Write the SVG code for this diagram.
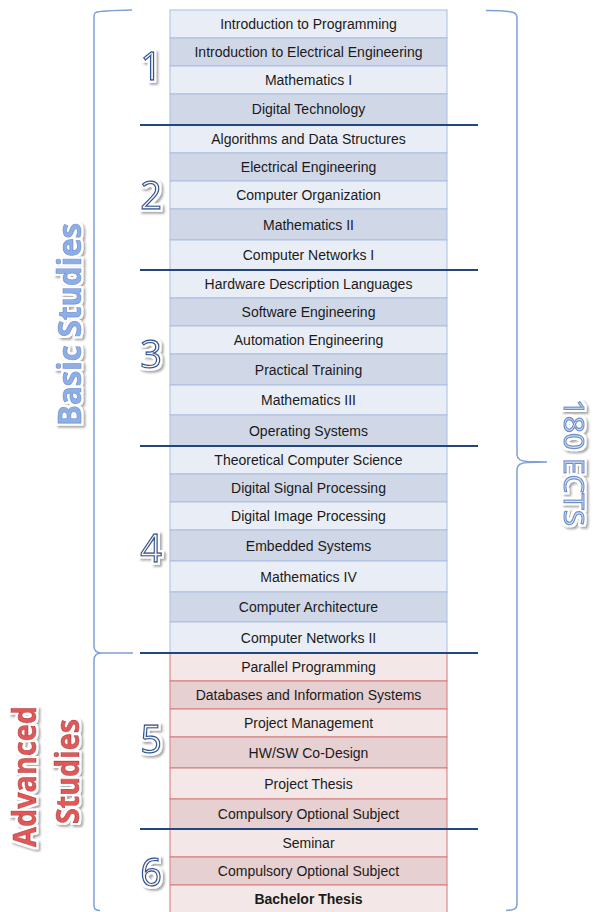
<svg xmlns="http://www.w3.org/2000/svg" width="595" height="912" viewBox="0 0 595 912">
<defs>
<style>
.rb{stroke:#a9bde0;stroke-width:1}
.L{fill:#e9eef6}
.D{fill:#d0d8e8}
.rr{stroke:#d47a7a;stroke-width:1}
.PL{fill:#f3e7e7}
.PD{fill:#e7d0d1}
.t{font-family:"Liberation Sans",Arial,sans-serif;font-size:14px;fill:#1a1a1a;text-anchor:middle}
.b{font-weight:bold}
.num{font-family:"Open Sans","Noto Sans",sans-serif;font-size:38px;fill:#fdf8ea;stroke:#2f5597;stroke-width:1.3;text-anchor:middle}
.big{font-family:"Open Sans","Noto Sans",sans-serif;font-weight:bold;font-size:32px;text-anchor:middle}
.brace{fill:none;stroke:#7ea0d6;stroke-width:1.5}
.div{stroke:#23467d;stroke-width:2}
</style>
<filter id="halo" x="-15%" y="-15%" width="140%" height="140%">
<feMorphology in="SourceAlpha" operator="dilate" radius="1.5" result="d"/>
<feGaussianBlur in="d" stdDeviation="1.2" result="db"/>
<feOffset in="db" dx="1.5" dy="1.5" result="so"/>
<feFlood flood-color="#000" flood-opacity="0.35"/>
<feComposite in2="so" operator="in" result="shadow"/>
<feFlood flood-color="#fff"/>
<feComposite in2="d" operator="in" result="white"/>
<feMerge><feMergeNode in="shadow"/><feMergeNode in="white"/><feMergeNode in="SourceGraphic"/></feMerge>
</filter>
</defs>
<rect width="595" height="912" fill="#fff"/>

<g id="sem1-rows">
<g id="r1"><rect x="170" y="10" width="277" height="28" class="L rb"/><text class="t" x="308.5" y="29">Introduction to Programming</text></g>
<g id="r2"><rect x="170" y="38" width="277" height="28" class="D rb"/><text class="t" x="308.5" y="57">Introduction to Electrical Engineering</text></g>
<g id="r3"><rect x="170" y="66" width="277" height="28" class="L rb"/><text class="t" x="308.5" y="85">Mathematics I</text></g>
<g id="r4"><rect x="170" y="94" width="277" height="31" class="D rb"/><text class="t" x="308.5" y="114">Digital Technology</text></g>
</g>
<g id="sem2-rows">
<g id="r5"><rect x="170" y="125" width="277" height="28" class="L rb"/><text class="t" x="308.5" y="144">Algorithms and Data Structures</text></g>
<g id="r6"><rect x="170" y="153" width="277" height="28" class="D rb"/><text class="t" x="308.5" y="172">Electrical Engineering</text></g>
<g id="r7"><rect x="170" y="181" width="277" height="28" class="L rb"/><text class="t" x="308.5" y="200">Computer Organization</text></g>
<g id="r8"><rect x="170" y="209" width="277" height="31" class="D rb"/><text class="t" x="308.5" y="229.5">Mathematics II</text></g>
<g id="r9"><rect x="170" y="240" width="277" height="30" class="L rb"/><text class="t" x="308.5" y="260">Computer Networks I</text></g>
</g>
<g id="sem3-rows">
<g id="r10"><rect x="170" y="270" width="277" height="28" class="L rb"/><text class="t" x="308.5" y="289">Hardware Description Languages</text></g>
<g id="r11"><rect x="170" y="298" width="277" height="28" class="D rb"/><text class="t" x="308.5" y="317">Software Engineering</text></g>
<g id="r12"><rect x="170" y="326" width="277" height="28" class="L rb"/><text class="t" x="308.5" y="345">Automation Engineering</text></g>
<g id="r13"><rect x="170" y="354" width="277" height="31" class="D rb"/><text class="t" x="308.5" y="374.5">Practical Training</text></g>
<g id="r14"><rect x="170" y="385" width="277" height="30" class="L rb"/><text class="t" x="308.5" y="405">Mathematics III</text></g>
<g id="r15"><rect x="170" y="415" width="277" height="31" class="D rb"/><text class="t" x="308.5" y="435.5">Operating Systems</text></g>
</g>
<g id="sem4-rows">
<g id="r16"><rect x="170" y="446" width="277" height="28" class="L rb"/><text class="t" x="308.5" y="465">Theoretical Computer Science</text></g>
<g id="r17"><rect x="170" y="474" width="277" height="28" class="D rb"/><text class="t" x="308.5" y="493">Digital Signal Processing</text></g>
<g id="r18"><rect x="170" y="502" width="277" height="28" class="L rb"/><text class="t" x="308.5" y="521">Digital Image Processing</text></g>
<g id="r19"><rect x="170" y="530" width="277" height="31" class="D rb"/><text class="t" x="308.5" y="550.5">Embedded Systems</text></g>
<g id="r20"><rect x="170" y="561" width="277" height="31" class="L rb"/><text class="t" x="308.5" y="581.5">Mathematics IV</text></g>
<g id="r21"><rect x="170" y="592" width="277" height="30" class="D rb"/><text class="t" x="308.5" y="612">Computer Architecture</text></g>
<g id="r22"><rect x="170" y="622" width="277" height="31" class="L rb"/><text class="t" x="308.5" y="642.5">Computer Networks II</text></g>
</g>
<g id="sem5-rows">
<g id="r23"><rect x="170" y="653" width="277" height="28" class="PL rr"/><text class="t" x="308.5" y="672">Parallel Programming</text></g>
<g id="r24"><rect x="170" y="681" width="277" height="28" class="PD rr"/><text class="t" x="308.5" y="700">Databases and Information Systems</text></g>
<g id="r25"><rect x="170" y="709" width="277" height="28" class="PL rr"/><text class="t" x="308.5" y="728">Project Management</text></g>
<g id="r26"><rect x="170" y="737" width="277" height="31" class="PD rr"/><text class="t" x="308.5" y="757.5">HW/SW Co-Design</text></g>
<g id="r27"><rect x="170" y="768" width="277" height="31" class="PL rr"/><text class="t" x="308.5" y="788.5">Project Thesis</text></g>
<g id="r28"><rect x="170" y="799" width="277" height="30" class="PD rr"/><text class="t" x="308.5" y="819">Compulsory Optional Subject</text></g>
</g>
<g id="sem6-rows">
<g id="r29"><rect x="170" y="829" width="277" height="28" class="PL rr"/><text class="t" x="308.5" y="848">Seminar</text></g>
<g id="r30"><rect x="170" y="857" width="277" height="28" class="PD rr"/><text class="t" x="308.5" y="876">Compulsory Optional Subject</text></g>
<g id="r31"><rect x="170" y="885" width="277" height="30" class="PL rr"/><text class="t b" x="308.5" y="903.5">Bachelor Thesis</text></g>
</g>

<g id="dividers">
<line class="div" x1="140" y1="125" x2="478" y2="125"/>
<line class="div" x1="140" y1="270" x2="478" y2="270"/>
<line class="div" x1="140" y1="446" x2="478" y2="446"/>
<line class="div" x1="140" y1="653" x2="478" y2="653"/>
<line class="div" x1="140" y1="829" x2="478" y2="829"/>
</g>

<g id="semester-numbers" filter="url(#halo)">
<text class="num" x="151" y="80">1</text>
<text class="num" x="151" y="209">2</text>
<text class="num" x="151" y="368">3</text>
<text class="num" x="151" y="562">4</text>
<text class="num" x="151" y="753">5</text>
<text class="num" x="151" y="886">6</text>
</g>

<g id="braces">
<path class="brace" d="M132,10 C115,10.3 99,11 95.5,12.5 Q94,13.5 94,17 L94,646 Q94,652.5 101,653 L133,653 M101,653 Q94,653.5 94,660 L94,906 Q94,910.5 100,910.5"/>
<path class="brace" d="M486,10.5 C500,10.5 509,11 513.5,12.5 Q517,14 517,18 L517,455 Q517.5,461 527,461.5 L547,462 L527,462.5 Q517.5,463 517,469 L517,904 Q517,909.5 511,910 L506,910.5"/>
</g>

<g id="label-basic" filter="url(#halo)">
<text class="big" transform="translate(81,324.5) rotate(-90)" x="0" y="0" fill="#8eaee6" stroke="#6a8fd0" stroke-width="0.7" textLength="203" lengthAdjust="spacingAndGlyphs">Basic Studies</text>
</g>
<g id="label-advanced" filter="url(#halo)">
<text class="big" transform="translate(36,776.5) rotate(-90)" x="0" y="0" fill="#e05858" stroke="#b83232" stroke-width="0.7" textLength="141" lengthAdjust="spacingAndGlyphs">Advanced</text>
<text class="big" transform="translate(79,771.5) rotate(-90)" x="0" y="0" fill="#e05858" stroke="#b83232" stroke-width="0.7" textLength="105" lengthAdjust="spacingAndGlyphs">Studies</text>
</g>
<g id="label-ects" filter="url(#halo)">
<text transform="translate(564,462.5) rotate(90)" x="0" y="0" font-family="Open Sans, Noto Sans, sans-serif" font-size="28" text-anchor="middle" fill="#dce5f3" stroke="#6a8fcc" stroke-width="1.2" textLength="127" lengthAdjust="spacingAndGlyphs">180 ECTS</text>
</g>
</svg>
